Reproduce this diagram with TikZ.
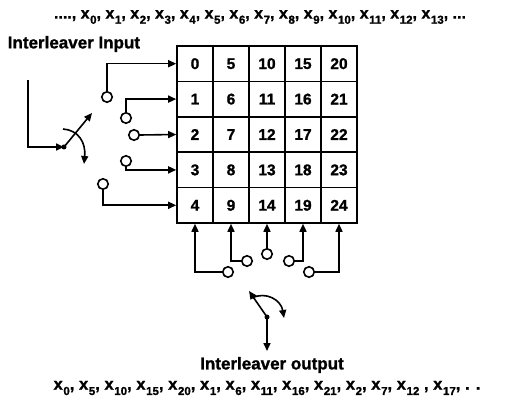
\documentclass[tikz,border=0pt]{standalone}
\usepackage{fontspec}
\setmainfont[BoldFeatures={FakeBold=1.2}]{Liberation Sans}
\usetikzlibrary{arrows.meta}
\newcommand\xsb[1]{x\kern0.6pt\raisebox{-0.32em}{\fontsize{11.5}{12}\selectfont #1}}
\begin{document}
\begin{tikzpicture}[x=1pt,y=-1pt, line width=1.6pt,
  arr/.style={-{Triangle[length=8pt,width=7pt]}},
  cell/.style={draw, minimum width=36pt, minimum height=35.4pt, inner sep=0pt, font=\fontsize{15.5}{16}\selectfont\bfseries},
  contact/.style={draw, circle, minimum size=10.5pt, inner sep=0pt, fill=white},
  lbl/.style={font=\fontsize{17}{19}\selectfont\bfseries, inner sep=0pt},
  seq/.style={font=\fontsize{16}{18}\selectfont\bfseries, inner sep=0pt}
]
\useasboundingbox (0,0) rectangle (519,406);
% grid
\foreach \r in {0,...,4}{
  \foreach \c in {0,...,4}{
    \pgfmathtruncatemacro\v{\c*5+\r}
    \node[cell] (r\r c\c) at ({195+36*\c},{63.7+35.4*\r}) {\v};
  }
}
% texts
\node[seq] (topseq) at (260,17) {...., \xsb{0}, \xsb{1}, \xsb{2}, \xsb{3}, \xsb{4}, \xsb{5}, \xsb{6}, \xsb{7}, \xsb{8}, \xsb{9}, \xsb{10}, \xsb{11}, \xsb{12}, \xsb{13}, ...};
\node[lbl, anchor=west] (inlbl) at (7,44) {Interleaver Input};
\node[lbl] (outlbl) at (272,365) {Interleaver output};
\node[seq, font=\fontsize{16.6}{18}\selectfont\bfseries] (botseq) at (267,388) {\xsb{0}, \xsb{5}, \xsb{10}, \xsb{15}, \xsb{20}, \xsb{1}, \xsb{6}, \xsb{11}, \xsb{16}, \xsb{21}, \xsb{2}, \xsb{7}, \xsb{12} , \xsb{17}, . .};
% input switch
\coordinate (inS) at (28,80);
\coordinate (piv) at (64,147);
\coordinate (armE) at (92,113);
\coordinate (cs) at (63,129);
\coordinate (ce) at (84,164);
\draw[arr] (inS) |- (piv);
\fill (piv) circle (2.5pt);
\draw[arr] (piv) -- (armE);
\draw[arr] (cs) .. controls (78,130) and (86,142) .. (ce);
% input contacts
\node[contact] (c0) at (107,97) {};
\node[contact] (c1) at (126,118) {};
\node[contact] (c2) at (134,135) {};
\node[contact] (c3) at (126,161) {};
\node[contact] (c4) at (103,184) {};
\draw[arr] (c0.north) |- (r0c0.west);
\draw[arr] (c1.north) |- (r1c0.west);
\draw[arr] (c2.east) -- (r2c0.west);
\draw[arr] (c3.south) |- (r3c0.west);
\draw[arr] (c4.south) |- (r4c0.west);
% output contacts
\node[contact] (b0) at (228,272) {};
\node[contact] (b1) at (247,261) {};
\node[contact] (b2) at (267,254) {};
\node[contact] (b3) at (289,261) {};
\node[contact] (b4) at (309,272) {};
\draw[arr] (b0.west) -| (r4c0.south);
\draw[arr] (b1.west) -| (r4c1.south);
\draw[arr] (b2.north) -- (r4c2.south);
\draw[arr] (b3.east) -| (r4c3.south);
\draw[arr] (b4.east) -| (r4c4.south);
% output switch
\coordinate (opiv) at (267,317);
\coordinate (oarm) at (249,291);
\coordinate (ocs) at (252,298);
\coordinate (oce) at (284,318);
\coordinate (oend) at (267,351);
\draw[arr] (opiv) -- (oarm);
\fill (opiv) circle (2.5pt);
\draw[arr] (ocs) .. controls (266,291) and (281,300) .. (oce);
\draw[arr] (opiv) -- (oend);
\end{tikzpicture}
\end{document}
